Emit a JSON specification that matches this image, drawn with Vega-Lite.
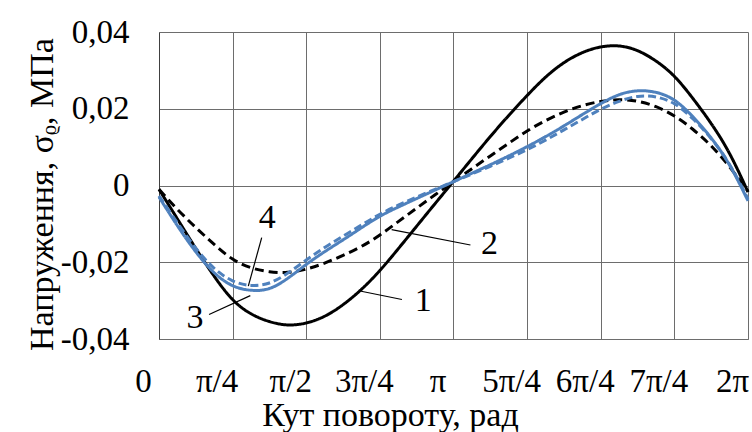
{
  "$schema": "https://vega.github.io/schema/vega-lite/v6.json",
  "width": 589,
  "height": 307,
  "autosize": {"type": "none"},
  "padding": {"left": 159, "top": 32, "right": 4, "bottom": 93},
  "background": "white",
  "config": {
    "view": {"stroke": null},
    "font": "Liberation Serif",
    "axis": {
      "labelFont": "Liberation Serif",
      "titleFont": "Liberation Serif",
      "labelFontSize": 33,
      "titleFontSize": 34,
      "labelColor": "#000000",
      "titleColor": "#000000",
      "titleFontWeight": "normal",
      "ticks": false,
      "tickSize": 0,
      "gridColor": "#6d6d6d",
      "gridWidth": 1,
      "gridOpacity": 1,
      "domainColor": "#6d6d6d",
      "domainWidth": 1
    }
  },
  "datasets": {
    "curves": [
      {"phi": 0, "s": "1", "v": -0.001}, {"phi": 0.1963, "s": "1", "v": -0.0087}, {"phi": 0.3927, "s": "1", "v": -0.0165}, {"phi": 0.589, "s": "1", "v": -0.0238},
      {"phi": 0.7854, "s": "1", "v": -0.0302}, {"phi": 0.9817, "s": "1", "v": -0.0337}, {"phi": 1.1781, "s": "1", "v": -0.0356}, {"phi": 1.3744, "s": "1", "v": -0.0366},
      {"phi": 1.5708, "s": "1", "v": -0.036}, {"phi": 1.7671, "s": "1", "v": -0.0343}, {"phi": 1.9635, "s": "1", "v": -0.0312}, {"phi": 2.1598, "s": "1", "v": -0.0272},
      {"phi": 2.3562, "s": "1", "v": -0.0223}, {"phi": 2.5525, "s": "1", "v": -0.0165}, {"phi": 2.7489, "s": "1", "v": -0.0106}, {"phi": 2.9452, "s": "1", "v": -0.0047},
      {"phi": 3.1416, "s": "1", "v": 0.0011}, {"phi": 3.3379, "s": "1", "v": 0.007}, {"phi": 3.5343, "s": "1", "v": 0.0128}, {"phi": 3.7306, "s": "1", "v": 0.0183},
      {"phi": 3.927, "s": "1", "v": 0.0235}, {"phi": 4.1233, "s": "1", "v": 0.0284}, {"phi": 4.3197, "s": "1", "v": 0.0322}, {"phi": 4.516, "s": "1", "v": 0.0348},
      {"phi": 4.7124, "s": "1", "v": 0.0363}, {"phi": 4.9087, "s": "1", "v": 0.0366}, {"phi": 5.1051, "s": "1", "v": 0.0354}, {"phi": 5.3014, "s": "1", "v": 0.0326},
      {"phi": 5.4978, "s": "1", "v": 0.0288}, {"phi": 5.6941, "s": "1", "v": 0.0228}, {"phi": 5.8905, "s": "1", "v": 0.0163}, {"phi": 6.0868, "s": "1", "v": 0.0088},
      {"phi": 6.2832, "s": "1", "v": -0.0017},

      {"phi": 0, "s": "2", "v": -0.001}, {"phi": 0.1963, "s": "2", "v": -0.0063}, {"phi": 0.3927, "s": "2", "v": -0.011}, {"phi": 0.589, "s": "2", "v": -0.0154},
      {"phi": 0.7854, "s": "2", "v": -0.0195}, {"phi": 0.9817, "s": "2", "v": -0.0216}, {"phi": 1.1781, "s": "2", "v": -0.0226}, {"phi": 1.3744, "s": "2", "v": -0.0228},
      {"phi": 1.5708, "s": "2", "v": -0.0219}, {"phi": 1.7671, "s": "2", "v": -0.0203}, {"phi": 1.9635, "s": "2", "v": -0.0182}, {"phi": 2.1598, "s": "2", "v": -0.016},
      {"phi": 2.3562, "s": "2", "v": -0.013}, {"phi": 2.5525, "s": "2", "v": -0.0094}, {"phi": 2.7489, "s": "2", "v": -0.0059}, {"phi": 2.9452, "s": "2", "v": -0.0024},
      {"phi": 3.1416, "s": "2", "v": 0.001}, {"phi": 3.3379, "s": "2", "v": 0.0044}, {"phi": 3.5343, "s": "2", "v": 0.0077}, {"phi": 3.7306, "s": "2", "v": 0.011},
      {"phi": 3.927, "s": "2", "v": 0.0143}, {"phi": 4.1233, "s": "2", "v": 0.017}, {"phi": 4.3197, "s": "2", "v": 0.0192}, {"phi": 4.516, "s": "2", "v": 0.0209},
      {"phi": 4.7124, "s": "2", "v": 0.022}, {"phi": 4.9087, "s": "2", "v": 0.0225}, {"phi": 5.1051, "s": "2", "v": 0.0221}, {"phi": 5.3014, "s": "2", "v": 0.0207},
      {"phi": 5.4978, "s": "2", "v": 0.0183}, {"phi": 5.6941, "s": "2", "v": 0.0148}, {"phi": 5.8905, "s": "2", "v": 0.0105}, {"phi": 6.0868, "s": "2", "v": 0.005},
      {"phi": 6.2832, "s": "2", "v": -0.0015},

      {"phi": 0, "s": "3", "v": -0.003}, {"phi": 0.1963, "s": "3", "v": -0.0106}, {"phi": 0.3927, "s": "3", "v": -0.0175}, {"phi": 0.589, "s": "3", "v": -0.0231},
      {"phi": 0.7854, "s": "3", "v": -0.0265}, {"phi": 0.9817, "s": "3", "v": -0.0275}, {"phi": 1.1781, "s": "3", "v": -0.0273}, {"phi": 1.3744, "s": "3", "v": -0.0243},
      {"phi": 1.5708, "s": "3", "v": -0.0205}, {"phi": 1.7671, "s": "3", "v": -0.0172}, {"phi": 1.9635, "s": "3", "v": -0.0142}, {"phi": 2.1598, "s": "3", "v": -0.011},
      {"phi": 2.3562, "s": "3", "v": -0.0079}, {"phi": 2.5525, "s": "3", "v": -0.0056}, {"phi": 2.7489, "s": "3", "v": -0.0034}, {"phi": 2.9452, "s": "3", "v": -0.0012},
      {"phi": 3.1416, "s": "3", "v": 0.001}, {"phi": 3.3379, "s": "3", "v": 0.0032}, {"phi": 3.5343, "s": "3", "v": 0.0054}, {"phi": 3.7306, "s": "3", "v": 0.0077},
      {"phi": 3.927, "s": "3", "v": 0.0101}, {"phi": 4.1233, "s": "3", "v": 0.0127}, {"phi": 4.3197, "s": "3", "v": 0.0155}, {"phi": 4.516, "s": "3", "v": 0.0185},
      {"phi": 4.7124, "s": "3", "v": 0.0214}, {"phi": 4.9087, "s": "3", "v": 0.0239}, {"phi": 5.1051, "s": "3", "v": 0.0249}, {"phi": 5.3014, "s": "3", "v": 0.0245},
      {"phi": 5.4978, "s": "3", "v": 0.0227}, {"phi": 5.6941, "s": "3", "v": 0.0181}, {"phi": 5.8905, "s": "3", "v": 0.0126}, {"phi": 6.0868, "s": "3", "v": 0.0058},
      {"phi": 6.2832, "s": "3", "v": -0.004},

      {"phi": 0, "s": "4", "v": -0.0027}, {"phi": 0.1963, "s": "4", "v": -0.0098}, {"phi": 0.3927, "s": "4", "v": -0.0166}, {"phi": 0.589, "s": "4", "v": -0.0219},
      {"phi": 0.7854, "s": "4", "v": -0.0252}, {"phi": 0.9817, "s": "4", "v": -0.0263}, {"phi": 1.1781, "s": "4", "v": -0.0258}, {"phi": 1.3744, "s": "4", "v": -0.0229},
      {"phi": 1.5708, "s": "4", "v": -0.0194}, {"phi": 1.7671, "s": "4", "v": -0.0161}, {"phi": 1.9635, "s": "4", "v": -0.0132}, {"phi": 2.1598, "s": "4", "v": -0.0103},
      {"phi": 2.3562, "s": "4", "v": -0.0074}, {"phi": 2.5525, "s": "4", "v": -0.0051}, {"phi": 2.7489, "s": "4", "v": -0.003}, {"phi": 2.9452, "s": "4", "v": -0.001},
      {"phi": 3.1416, "s": "4", "v": 0.001}, {"phi": 3.3379, "s": "4", "v": 0.003}, {"phi": 3.5343, "s": "4", "v": 0.005}, {"phi": 3.7306, "s": "4", "v": 0.0071},
      {"phi": 3.927, "s": "4", "v": 0.0093}, {"phi": 4.1233, "s": "4", "v": 0.0118}, {"phi": 4.3197, "s": "4", "v": 0.0145}, {"phi": 4.516, "s": "4", "v": 0.0172},
      {"phi": 4.7124, "s": "4", "v": 0.02}, {"phi": 4.9087, "s": "4", "v": 0.022}, {"phi": 5.1051, "s": "4", "v": 0.0235}, {"phi": 5.3014, "s": "4", "v": 0.0233},
      {"phi": 5.4978, "s": "4", "v": 0.0217}, {"phi": 5.6941, "s": "4", "v": 0.0176}, {"phi": 5.8905, "s": "4", "v": 0.0124}, {"phi": 6.0868, "s": "4", "v": 0.006},
      {"phi": 6.2832, "s": "4", "v": -0.0035}
    ],
    "labels": [
      {"label": "1", "phi": 2.8196, "v": -0.0301},
      {"label": "2", "phi": 3.5264, "v": -0.0152},
      {"label": "3", "phi": 0.3848, "v": -0.0345},
      {"label": "4", "phi": 1.1545, "v": -0.0084}
    ],
    "leaders": [
      {"label": "1", "phi": 2.1441, "v": -0.0275, "phi2": 2.5918, "v2": -0.0297},
      {"label": "2", "phi": 2.4819, "v": -0.0115, "phi2": 3.3222, "v2": -0.0155},
      {"label": "3", "phi": 0.5341, "v": -0.0336, "phi2": 0.9739, "v2": -0.0287},
      {"label": "4", "phi": 1.0956, "v": -0.0136, "phi2": 0.9527, "v2": -0.0262}
    ]
  },
  "layer": [
    {
      "mark": {"type": "rule", "color": "#d9d9d9", "strokeWidth": 1.5, "clip": false},
      "encoding": {
        "x": {"datum": -1.568, "type": "quantitative"},
        "y": {"datum": 0.0461, "type": "quantitative"},
        "y2": {"datum": -0.07}
      }
    },
    {
      "mark": {"type": "rule", "color": "#d9d9d9", "strokeWidth": 1.5, "clip": false},
      "encoding": {
        "x": {"datum": -1.568, "type": "quantitative"},
        "x2": {"datum": 6.6},
        "y": {"datum": 0.0461, "type": "quantitative"}
      }
    },
    {
      "data": {"name": "curves"},
      "mark": {"type": "line", "interpolate": "basis", "strokeWidth": 3},
      "encoding": {
        "x": {
          "field": "phi",
          "type": "quantitative",
          "scale": {"domain": [0, 6.2832], "nice": false, "zero": false},
          "axis": {
            "title": "Кут повороту, рад",
            "values": [0, 0.785398, 1.570796, 2.356194, 3.141593, 3.926991, 4.712389, 5.497787, 6.283185],
            "labelExpr": "['0','π/4','π/2','3π/4','π','5π/4','6π/4','7π/4','2π'][round(datum.value/0.785398)]",
            "labelBaseline": "alphabetic",
            "labelPadding": 52,
            "labelOffset": -16,
            "labelFlush": false,
            "labelOverlap": false,
            "grid": true,
            "titleX": 231,
            "titleY": 86,
            "titleAlign": "center",
            "titleBaseline": "alphabetic"
          }
        },
        "y": {
          "field": "v",
          "type": "quantitative",
          "scale": {"domain": [-0.04, 0.04], "nice": false, "zero": false},
          "axis": {
            "title": "Напруження, σᵨ, МПа",
            "values": [-0.04, -0.02, 0, 0.02, 0.04],
            "labelExpr": "datum.value == 0 ? '0' : (datum.value < 0 ? '-' : '') + replace(format(abs(datum.value), '.2f'), '.', ',')",
            "labelPadding": 30,
            "labelBaseline": "middle",
            "labelFlush": false,
            "labelOverlap": false,
            "grid": true,
            "domainColor": "#404040",
            "titleX": -107,
            "titleY": 162,
            "titleAngle": -90,
            "titleAlign": "center",
            "titleBaseline": "alphabetic"
          }
        },
        "color": {
          "field": "s",
          "type": "nominal",
          "scale": {"domain": ["1", "2", "3", "4"], "range": ["#000000", "#000000", "#4f81bd", "#4f81bd"]},
          "legend": null
        },
        "strokeDash": {
          "field": "s",
          "type": "nominal",
          "scale": {"domain": ["1", "2", "3", "4"], "range": [[1, 0], [9, 5], [1, 0], [8, 4]]},
          "legend": null
        }
      }
    },
    {
      "data": {"name": "leaders"},
      "mark": {"type": "rule", "color": "#000000", "strokeWidth": 1.2},
      "encoding": {
        "x": {"field": "phi", "type": "quantitative"},
        "y": {"field": "v", "type": "quantitative"},
        "x2": {"field": "phi2"},
        "y2": {"field": "v2"}
      }
    },
    {
      "data": {"name": "labels"},
      "mark": {"type": "text", "font": "Liberation Serif", "fontSize": 34, "color": "#000000", "align": "center", "baseline": "middle"},
      "encoding": {
        "x": {"field": "phi", "type": "quantitative"},
        "y": {"field": "v", "type": "quantitative"},
        "text": {"field": "label"}
      }
    }
  ]
}
